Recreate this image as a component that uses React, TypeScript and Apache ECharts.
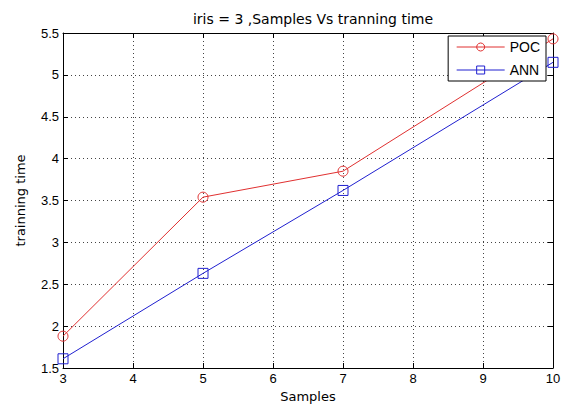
import React, { useEffect, useRef } from "react";
import * as echarts from "echarts";

const samples = [3, 5, 7, 10];
const pocValues = [1.88, 3.54, 3.85, 5.43];
const annValues = [1.61, 2.63, 3.62, 5.15];
const titleText = "iris = 3 ,Samples Vs tranning time";
const xName = "Samples";
const yName = "trainning time";

const FONT = "'Liberation Sans', Arial, sans-serif";
const WIDE = "'DejaVu Sans', sans-serif";
const RED = "#e03030";
const BLUE = "#2020d0";

export default function App() {
  const ref = useRef<HTMLDivElement>(null);
  useEffect(() => {
    if (!ref.current) return;
    const chart = echarts.init(ref.current, undefined, { renderer: "svg" });
    const tick = { show: true, inside: true, length: 5, lineStyle: { color: "#000", width: 1 } };
    const grid = { show: true, lineStyle: { color: "#444", type: [1, 3] as any, width: 1 } };
    chart.setOption({
      animation: false,
      backgroundColor: "#fff",
      textStyle: { fontFamily: FONT },
      title: {
        text: titleText,
        left: 308,
        textAlign: "center",
        top: 7,
        textStyle: { fontFamily: WIDE, fontSize: 14, fontWeight: "normal", color: "#000" },
      },
      grid: { left: 63, right: 13, top: 33, bottom: 39, show: false },
      legend: {
        right: 20,
        top: 36,
        orient: "vertical",
        itemWidth: 48,
        itemHeight: 10,
        itemGap: 9,
        padding: [4, 6, 4, 8],
        borderColor: "#000",
        borderWidth: 1,
        backgroundColor: "#fff",
        textStyle: { fontFamily: FONT, fontSize: 14, color: "#000" },
        data: [
          { name: "POC", itemStyle: { color: "rgba(255,255,255,0)", borderColor: RED, borderWidth: 1 }, lineStyle: { color: RED, width: 1 } },
          { name: "ANN", itemStyle: { color: "rgba(255,255,255,0)", borderColor: BLUE, borderWidth: 1 }, lineStyle: { color: BLUE, width: 1 } },
        ],
      },
      xAxis: [
        {
          type: "value",
          min: 3,
          max: 10,
          interval: 1,
          name: xName,
          nameLocation: "middle",
          nameGap: 22,
          nameTextStyle: { fontFamily: WIDE, fontSize: 13, color: "#000" },
          axisLine: { show: true, lineStyle: { color: "#000", width: 1 } },
          axisTick: tick,
          axisLabel: { fontFamily: FONT, fontSize: 13, color: "#000", margin: 4 },
          splitLine: grid,
        },
        {
          type: "value",
          position: "top",
          min: 3,
          max: 10,
          interval: 1,
          axisLine: { show: true, lineStyle: { color: "#000", width: 1 } },
          axisTick: tick,
          axisLabel: { show: false },
          splitLine: { show: false },
        },
      ],
      yAxis: [
        {
          type: "value",
          min: 1.5,
          max: 5.5,
          interval: 0.5,
          name: yName,
          nameLocation: "middle",
          nameGap: 36,
          nameTextStyle: { fontFamily: WIDE, fontSize: 13, color: "#000" },
          axisLine: { show: true, lineStyle: { color: "#000", width: 1 } },
          axisTick: tick,
          axisLabel: { fontFamily: FONT, fontSize: 13, color: "#000", margin: 4 },
          splitLine: grid,
        },
        {
          type: "value",
          position: "right",
          min: 1.5,
          max: 5.5,
          interval: 0.5,
          axisLine: { show: true, lineStyle: { color: "#000", width: 1 } },
          axisTick: tick,
          axisLabel: { show: false },
          splitLine: { show: false },
        },
      ],
      series: [
        {
          name: "POC",
          type: "line",
          data: samples.map((s, i) => [s, pocValues[i]]),
          lineStyle: { width: 1, color: RED },
          symbol: "circle",
          symbolSize: 10,
          itemStyle: { color: "rgba(255,255,255,0)", borderColor: RED, borderWidth: 1 },
          clip: false,
          z: 3,
        },
        {
          name: "ANN",
          type: "line",
          data: samples.map((s, i) => [s, annValues[i]]),
          lineStyle: { width: 1, color: BLUE },
          symbol: "rect",
          symbolSize: 10,
          itemStyle: { color: "rgba(255,255,255,0)", borderColor: BLUE, borderWidth: 1 },
          clip: false,
          z: 3,
        },
      ],
    });
    return () => chart.dispose();
  }, []);
  return <div ref={ref} style={{ width: 566, height: 408, position: "absolute", left: 0, top: 0 }} />;
}
